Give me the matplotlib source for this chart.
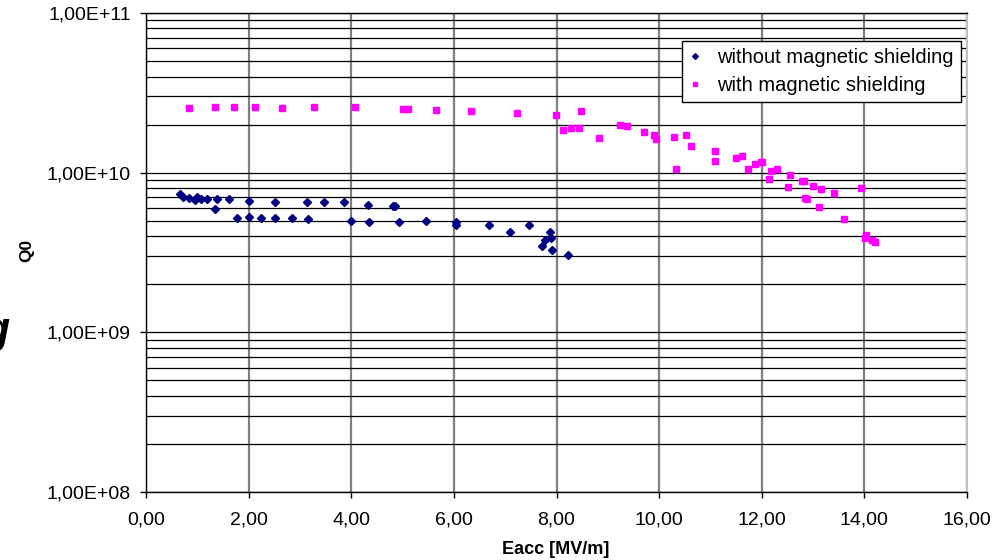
import math
import matplotlib
matplotlib.use("Agg")
import matplotlib.pyplot as plt
from matplotlib.ticker import FuncFormatter, LogLocator, MultipleLocator

plt.rcParams["font.family"] = "sans-serif"
plt.rcParams["font.sans-serif"] = ["Liberation Sans", "DejaVu Sans"]

# without magnetic shielding
eacc_wo = [0.66, 0.73, 0.84, 0.96, 0.99, 1.07, 1.19, 1.34, 1.38, 1.61,
           1.77, 2.00, 2.01, 2.25, 2.52, 2.52, 2.85, 3.14, 3.16, 3.47,
           3.86, 3.99, 4.33, 4.34, 4.81, 4.85, 4.94, 5.46, 6.04, 6.04,
           6.68, 7.09, 7.46, 7.88, 7.90, 7.78, 7.72, 7.92, 8.23]
q0_wo = [7.33e9, 7.02e9, 6.89e9, 6.79e9, 7.09e9, 6.82e9, 6.82e9, 5.96e9, 6.82e9, 6.82e9,
         5.19e9, 5.26e9, 6.69e9, 5.19e9, 6.53e9, 5.19e9, 5.19e9, 6.53e9, 5.11e9, 6.53e9,
         6.53e9, 5.01e9, 6.26e9, 4.89e9, 6.17e9, 6.17e9, 4.89e9, 4.96e9, 4.91e9, 4.69e9,
         4.73e9, 4.22e9, 4.67e9, 4.22e9, 3.88e9, 3.77e9, 3.46e9, 3.30e9, 3.03e9]

# with magnetic shielding
eacc_w = [0.83, 1.35, 1.72, 2.12, 2.65, 3.27, 4.08, 5.01, 5.10, 5.66,
          6.33, 7.23, 7.99, 8.12, 8.28, 8.43, 8.47, 8.82, 9.23, 9.38,
          9.71, 9.90, 9.94, 10.29, 10.33, 10.52, 10.62, 11.09, 11.09, 11.49,
          11.61, 11.74, 11.86, 11.98, 12.00, 12.15, 12.19, 12.29, 12.51, 12.55,
          12.79, 12.82, 12.84, 12.88, 13.00, 13.12, 13.16, 13.40, 13.60, 13.94,
          14.04, 14.01, 14.14, 14.20]
q0_w = [2.55e10, 2.59e10, 2.59e10, 2.59e10, 2.55e10, 2.59e10, 2.59e10, 2.51e10, 2.51e10, 2.48e10,
        2.44e10, 2.37e10, 2.30e10, 1.86e10, 1.91e10, 1.91e10, 2.44e10, 1.65e10, 1.99e10, 1.97e10,
        1.80e10, 1.73e10, 1.63e10, 1.68e10, 1.06e10, 1.73e10, 1.47e10, 1.37e10, 1.19e10, 1.24e10,
        1.27e10, 1.06e10, 1.14e10, 1.17e10, 1.16e10, 9.15e9, 1.03e10, 1.05e10, 8.15e9, 9.60e9,
        8.89e9, 8.81e9, 6.95e9, 6.85e9, 8.26e9, 6.10e9, 7.92e9, 7.47e9, 5.13e9, 8.03e9,
        4.07e9, 3.90e9, 3.79e9, 3.68e9]

fig = plt.figure(figsize=(10.07, 5.6), dpi=100)
ax = fig.add_axes([146/1007, 1-492/560, (967-146)/1007, (492-13)/560])

ax.set_yscale('log')
ax.set_xlim(0, 16)
ax.set_ylim(1e8, 1e11)

# grid: black horizontal at every decade step, grey vertical at majors
ax.yaxis.set_major_locator(LogLocator(base=10))
ax.yaxis.set_minor_locator(LogLocator(base=10, subs=range(2, 10)))
ax.xaxis.set_major_locator(MultipleLocator(2))
ax.yaxis.grid(True, which='both', color='black', linewidth=0.9)
ax.xaxis.grid(True, which='major', color='#808080', linewidth=1.6)
ax.set_axisbelow(True)

ax.plot(eacc_wo, q0_wo, linestyle='none', marker='D', ms=4.2, color='#000080',
        label='without magnetic shielding', zorder=3)
ax.plot(eacc_w, q0_w, linestyle='none', marker='s', ms=5, color='#FF00FF',
        label='with magnetic shielding', zorder=3)

ax.yaxis.set_major_formatter(FuncFormatter(lambda v, p: "1,00E+%02d" % round(math.log10(v))))
ax.xaxis.set_major_formatter(FuncFormatter(lambda v, p: ("%.2f" % v).replace('.', ',')))
ax.tick_params(axis='y', which='minor', length=0)
ax.tick_params(axis='both', which='major', direction='out', length=4, width=1,
               labelsize=14, color='black')
ax.tick_params(axis='y', pad=7)
ax.tick_params(axis='x', pad=10)

for s in ['left', 'bottom', 'top']:
    ax.spines[s].set_color('black')
    ax.spines[s].set_linewidth(1)
ax.spines['right'].set_color('#c0c0c0')
ax.spines['right'].set_linewidth(1.5)

fig.text(556/1007, 1-550/560, 'Eacc [MV/m]', fontsize=13, fontweight='bold',
         ha='center', va='center')
fig.text(27/1007, 1-250/560, 'Q0', rotation=90, fontsize=12.5, fontweight='bold',
         ha='center', va='center')
fig.text(9/1007, 1-332/560, 'g', fontsize=32, fontstyle='italic', fontweight='bold',
         ha='right', va='center')

leg = ax.legend(loc='upper right', bbox_to_anchor=(961/1007, 1-41/560),
                bbox_transform=fig.transFigure, fontsize=14.5, frameon=True,
                fancybox=False, framealpha=1, edgecolor='black',
                handlelength=0.6, handletextpad=0.8, borderpad=0.35,
                labelspacing=0.45, markerscale=0.7, borderaxespad=0)
leg.get_frame().set_linewidth(1)

fig.savefig('out.png', dpi=100)
